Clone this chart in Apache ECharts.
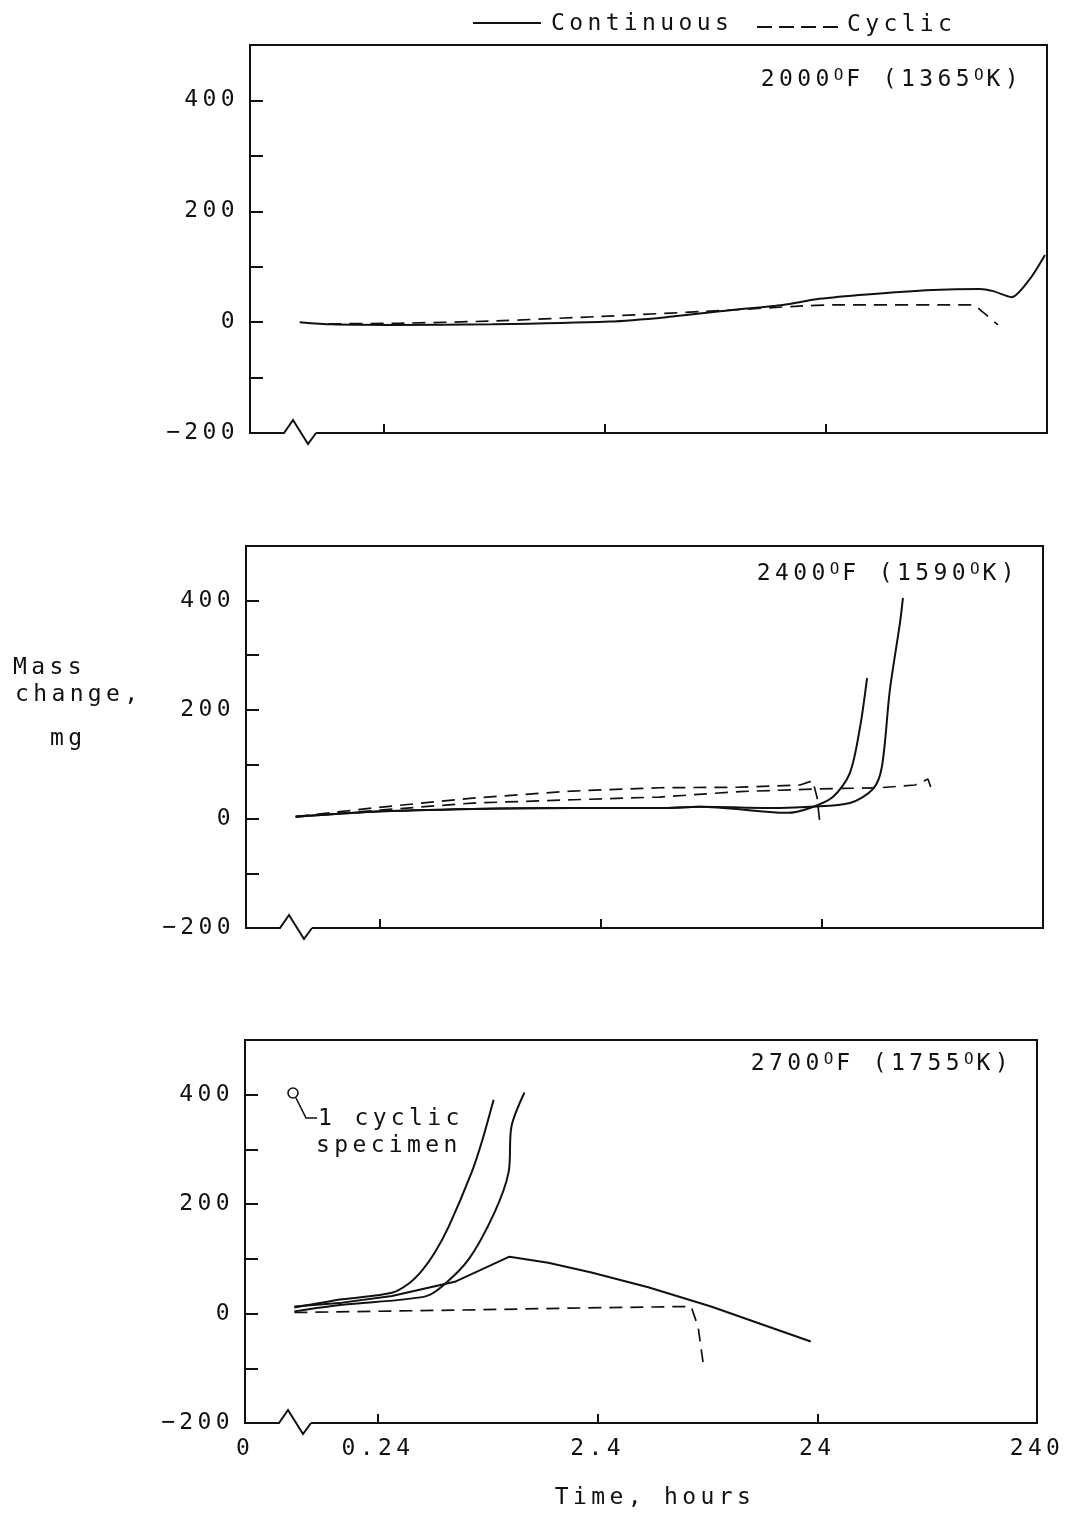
<!DOCTYPE html>
<html>
<head>
<meta charset="utf-8">
<style>
html,body{margin:0;padding:0;background:#fff;}
#chart{width:1072px;height:1516px;}
</style>
<script src="https://cdn.jsdelivr.net/npm/echarts@6.0.0/dist/echarts.min.js"></script>
</head>
<body>
<div id="chart"></div>
<script>
// widen letter spacing of canvas text to mimic the lettering-guide font
(function(){
  var proto = CanvasRenderingContext2D.prototype;
  var d = Object.getOwnPropertyDescriptor(proto, 'font');
  if (!d || !('letterSpacing' in proto)) return;
  Object.defineProperty(proto, 'font', {
    configurable: true,
    get: function(){ return d.get.call(this); },
    set: function(v){
      d.set.call(this, v);
      var m = /(\d+(?:\.\d+)?)px/.exec(v);
      var s = m ? parseFloat(m[1]) : 12;
      this.letterSpacing = (s * 0.19).toFixed(2) + 'px';
    }
  });
})();

// ---------------- data ----------------
const xMinHours = 0.0596;          // left edge of the time axis (labelled "0")
const xMaxHours = 240;
const xTickHours = [0.24, 2.4, 24];
const xLabelHours = [0.24, 2.4, 24, 240];
const yTicks = [-100, 0, 100, 200, 300, 400];
const yLabels = [-200, 0, 200, 400];
const panelTitles = ['2000{s|O}F (1365{s|O}K)', '2400{s|O}F (1590{s|O}K)', '2700{s|O}F (1755{s|O}K)'];

// Panel 1: 2000 F
const p1ContTime = [0.1, 0.139, 0.26, 0.74, 2.51, 4.55, 9.05, 15.3, 22.4, 36.7, 73, 119, 137, 166, 201, 235];
const p1ContMass = [0, -4, -5, -4, 1, 9, 22, 31, 42, 50, 58, 60, 56, 45, 78, 121];
const p1CycTime = [0.135, 0.28, 0.74, 2.51, 9.05, 18.2, 25.7, 111, 123, 144];
const p1CycMass = [-3, -2, 2, 11, 22, 29, 31, 31, 18, -5];

// Panel 2: 2400 F
const p2ContATime = [0.1, 0.223, 0.632, 1.79, 4.44, 6.73, 13.5, 16.7, 21.2, 26.9, 32.1, 35.7, 38.4];
const p2ContAMass = [4, 13, 18, 20, 20, 22, 13, 11, 20, 40, 84, 168, 258];
const p2ContBTime = [0.1, 0.223, 0.632, 1.79, 4.44, 6.73, 15.5, 21.2, 32.1, 40.9, 44.8, 48.7, 54.1, 55.8];
const p2ContBMass = [4, 13, 18, 20, 20, 22, 20, 22, 29, 55, 95, 236, 359, 405];
const p2CycATime = [0.1, 0.223, 0.632, 1.79, 4.44, 10.2, 19.1, 21.8, 22.8, 23.5];
const p2CycAMass = [4, 20, 38, 51, 57, 58, 62, 70, 40, -8];
const p2CycBTime = [0.1, 0.223, 0.632, 1.79, 4.44, 10.2, 23.5, 43.9, 63.3, 72.4, 74.7];
const p2CycBMass = [4, 15, 29, 35, 40, 50, 55, 57, 62, 73, 57];

// Panel 3: 2700 F
const p3ContATime = [0.1, 0.165, 0.278, 0.332, 0.38, 0.435, 0.504, 0.641, 0.712, 0.807];
const p3ContAMass = [11, 26, 38, 55, 78, 111, 159, 258, 313, 391];
const p3ContBTime = [0.1, 0.165, 0.392, 0.468, 0.621, 0.815, 0.944, 0.973, 1.115];
const p3ContBMass = [4, 16, 31, 49, 99, 185, 258, 342, 404];
const p3ContCTime = [0.1, 0.165, 0.278, 0.537, 0.953, 1.43, 2.25, 4.08, 7.88, 22.4];
const p3ContCMass = [13, 20, 32, 58, 104, 93, 75, 48, 13, -51];
const p3CycTime = [0.1, 0.712, 1.82, 6.39, 6.88, 7.25];
const p3CycMass = [2, 7, 10, 13, -24, -90];

// ---------------- layout ----------------
const panels = [
  {left: 250, top: 45, width: 797, height: 388},
  {left: 246, top: 546, width: 797, height: 382},
  {left: 245, top: 1040, width: 792, height: 383}
];
const titleY = [80, 574, 1064];
const FONT = "'DejaVu Sans Mono', monospace";
const FS = 23;
const INK = '#111';

const lg = Math.log10;
const pairs = (t, m) => t.map((v, i) => [lg(v), m[i]]);
const fmtHours = v => (v <= lg(xMinHours) + 1e-6) ? '0' : String(+Math.pow(10, v).toPrecision(2));

const grids = [], xAxes = [], yAxes = [], series = [], graphics = [];

panels.forEach((p, i) => {
  grids.push({left: p.left, top: p.top, width: p.width, height: p.height,
    containLabel: false, outerBoundsMode: 'none', show: false});
  xAxes.push({
    type: 'value', gridIndex: i, position: 'bottom', min: lg(xMinHours), max: lg(xMaxHours),
    axisLine: {show: false, onZero: false}, splitLine: {show: false},
    axisTick: {show: true, inside: true, length: 9, customValues: xTickHours.map(lg),
      lineStyle: {color: INK, width: 2}},
    axisLabel: {show: i === 2, customValues: [lg(xMinHours)].concat(xLabelHours.map(lg)),
      formatter: fmtHours, margin: 12, color: INK, fontFamily: FONT, fontSize: FS,
      showMinLabel: true, showMaxLabel: true}
  });
  yAxes.push({
    type: 'value', gridIndex: i, position: 'left', min: -200, max: 500,
    axisLine: {show: false, onZero: false}, splitLine: {show: false},
    axisTick: {show: true, inside: true, length: 13, customValues: yTicks,
      lineStyle: {color: INK, width: 2}},
    axisLabel: {customValues: yLabels, margin: 11, color: INK, fontFamily: FONT, fontSize: FS,
      formatter: v => v < 0 ? '\u2212' + Math.abs(v) : String(v)}
  });
  // frame with axis break
  const L = p.left, T = p.top, R = p.left + p.width, B = p.top + p.height;
  graphics.push({type: 'polyline', silent: true,
    shape: {points: [[L + 66, B], [R, B], [R, T], [L, T], [L, B], [L + 34, B], [L + 43, B - 13], [L + 58, B + 11], [L + 66, B]]},
    style: {stroke: INK, lineWidth: 2, fill: null, lineJoin: 'miter'}});
  graphics.push({type: 'text', silent: true,
    style: {text: panelTitles[i], x: R - 24, y: titleY[i], align: 'right', verticalAlign: 'middle',
      fontFamily: FONT, fontSize: FS, fill: INK,
      rich: {s: {fontFamily: FONT, fontSize: 16, verticalAlign: 'top', fill: INK}}}});
});

function addLine(grid, t, m, dashed, smooth) {
  series.push({
    type: 'line', xAxisIndex: grid, yAxisIndex: grid, data: pairs(t, m),
    showSymbol: false, symbol: 'none', smooth: smooth, silent: true, clip: false,
    lineStyle: {color: INK, width: dashed ? 1.7 : 2, type: dashed ? [13, 8] : 'solid'}
  });
}
addLine(0, p1ContTime, p1ContMass, false, 0.25);
addLine(0, p1CycTime, p1CycMass, true, 0.2);
addLine(1, p2ContATime, p2ContAMass, false, 0.3);
addLine(1, p2ContBTime, p2ContBMass, false, 0.3);
addLine(1, p2CycATime, p2CycAMass, true, false);
addLine(1, p2CycBTime, p2CycBMass, true, false);
addLine(2, p3ContATime, p3ContAMass, false, 0.3);
addLine(2, p3ContBTime, p3ContBMass, false, 0.3);
addLine(2, p3ContCTime, p3ContCMass, false, false);
addLine(2, p3CycTime, p3CycMass, true, false);

// legend
graphics.push({type: 'line', silent: true, shape: {x1: 473, y1: 23, x2: 541, y2: 23}, style: {stroke: INK, lineWidth: 1.8}});
graphics.push({type: 'text', silent: true, style: {text: 'Continuous', x: 551, y: 24, verticalAlign: 'middle', fontFamily: FONT, fontSize: FS, fill: INK}});
graphics.push({type: 'line', silent: true, shape: {x1: 757, y1: 27, x2: 845, y2: 27}, style: {stroke: INK, lineWidth: 1.8, lineDash: [15, 7]}});
graphics.push({type: 'text', silent: true, style: {text: 'Cyclic', x: 847, y: 25, verticalAlign: 'middle', fontFamily: FONT, fontSize: FS, fill: INK}});

// axis names
graphics.push({type: 'text', silent: true, style: {text: 'Mass', x: 13, y: 668, verticalAlign: 'middle', fontFamily: FONT, fontSize: FS, fill: INK}});
graphics.push({type: 'text', silent: true, style: {text: 'change,', x: 15, y: 695, verticalAlign: 'middle', fontFamily: FONT, fontSize: FS, fill: INK}});
graphics.push({type: 'text', silent: true, style: {text: 'mg', x: 50, y: 739, verticalAlign: 'middle', fontFamily: FONT, fontSize: FS, fill: INK}});
graphics.push({type: 'text', silent: true, style: {text: 'Time, hours', x: 655, y: 1498, align: 'center', verticalAlign: 'middle', fontFamily: FONT, fontSize: FS, fill: INK}});

// annotation: cyclic specimen symbol
graphics.push({type: 'circle', silent: true, shape: {cx: 293, cy: 1093, r: 5}, style: {stroke: INK, lineWidth: 1.6, fill: '#fff'}});
graphics.push({type: 'polyline', silent: true, shape: {points: [[296, 1098], [306, 1118], [317, 1118]]}, style: {stroke: INK, lineWidth: 1.6, fill: null}});
graphics.push({type: 'text', silent: true, style: {text: '1 cyclic', x: 318, y: 1119, verticalAlign: 'middle', fontFamily: FONT, fontSize: FS, fill: INK}});
graphics.push({type: 'text', silent: true, style: {text: 'specimen', x: 316, y: 1146, verticalAlign: 'middle', fontFamily: FONT, fontSize: FS, fill: INK}});

const chart = echarts.init(document.getElementById('chart'), null, {renderer: 'canvas'});
chart.setOption({
  animation: false,
  backgroundColor: '#fff',
  grid: grids, xAxis: xAxes, yAxis: yAxes, series: series,
  graphic: {elements: graphics}
});
</script>
</body>
</html>
